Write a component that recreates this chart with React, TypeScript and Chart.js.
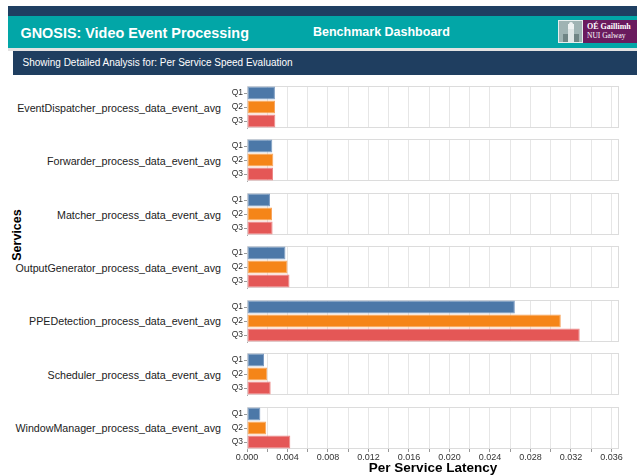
import React, { useEffect, useRef } from 'react';
import { Chart, registerables } from 'chart.js';

Chart.register(...registerables);

// ---- data ----
const services = [
  'EventDispatcher_process_data_event_avg',
  'Forwarder_process_data_event_avg',
  'Matcher_process_data_event_avg',
  'OutputGenerator_process_data_event_avg',
  'PPEDetection_process_data_event_avg',
  'Scheduler_process_data_event_avg',
  'WindowManager_process_data_event_avg',
];
const quarterLabels = ['Q1', 'Q2', 'Q3'];
const q1Values = [0.00276, 0.0025, 0.00227, 0.0038, 0.02646, 0.00168, 0.00132];
const q2Values = [0.00277, 0.0026, 0.00247, 0.004, 0.031, 0.002, 0.0019];
const q3Values = [0.0028, 0.00257, 0.00253, 0.0042, 0.03287, 0.00234, 0.00428];
const xMax = 0.03675;
const xGridStep = 0.002;
const xLabelStep = 0.004;

const FONT = '"Liberation Sans", Arial, Helvetica, sans-serif';
const barColors = ['#4c78a8', '#f58518', '#e45756'];
const barEdges = ['#7d9cc2', '#f8a55e', '#ec8987'];

Chart.defaults.font.family = FONT;

const panelBorder = {
  id: 'panelBorder',
  beforeDatasetsDraw(chart: any) {
    const { ctx, chartArea } = chart;
    ctx.save();
    ctx.strokeStyle = '#dcdcdc';
    ctx.lineWidth = 1;
    ctx.strokeRect(
      Math.round(chartArea.left) + 0.5,
      Math.round(chartArea.top) + 0.5,
      Math.round(chartArea.right - chartArea.left) - 1,
      Math.round(chartArea.bottom - chartArea.top) - 1
    );
    ctx.restore();
  },
};

const CANVAS_LEFT = 224;
const CANVAS_WIDTH = 637 - CANVAS_LEFT;
const PLOT_LEFT = 247;
const PLOT_RIGHT = 619;
const PANEL_TOP0 = 86;
const PANEL_STEP = 53.45;
const PANEL_H = 42;
const XAXIS_H = 27;

function Panel({ index }: { index: number }) {
  const ref = useRef<HTMLCanvasElement>(null);
  const isLast = index === services.length - 1;
  const top = Math.round(PANEL_TOP0 + PANEL_STEP * index) - 1;
  const height = 1 + PANEL_H + (isLast ? XAXIS_H : 1);

  useEffect(() => {
    const chart = new Chart(ref.current as HTMLCanvasElement, {
      type: 'bar',
      data: {
        labels: quarterLabels,
        datasets: [
          {
            data: [q1Values[index], q2Values[index], q3Values[index]],
            backgroundColor: barColors,
            borderColor: barEdges,
            borderWidth: 1,
            borderSkipped: false,
            barPercentage: 0.92,
            categoryPercentage: 1,
          },
        ],
      },
      options: {
        indexAxis: 'y',
        animation: false,
        responsive: false,
        maintainAspectRatio: false,
        devicePixelRatio: 1,
        layout: {
          padding: { top: 1, bottom: isLast ? 0 : 1, left: 0, right: 637 - PLOT_RIGHT },
        },
        plugins: { legend: { display: false }, tooltip: { enabled: false } },
        scales: {
          x: {
            type: 'linear',
            min: 0,
            max: xMax,
            grid: {
              color: '#e6e6e6',
              drawTicks: isLast,
              tickLength: 3,
              tickColor: '#999',
            },
            border: { display: false },
            ticks: {
              display: isLast,
              stepSize: xGridStep,
              includeBounds: false,
              autoSkip: false,
              maxRotation: 0,
              padding: 0,
              color: '#333',
              font: { size: 9 },
              callback: (v: any) => {
                const k = Math.round(Number(v) / xGridStep);
                const per = Math.round(xLabelStep / xGridStep);
                return k % per === 0 ? Number(v).toFixed(3) : '';
              },
            },
            title: {
              display: isLast,
              text: 'Per Service Latency',
              color: '#000',
              font: { size: 13.5, weight: 'bold' },
              padding: { top: 0, bottom: 0 },
            },
            afterFit: (s: any) => {
              s.height = isLast ? XAXIS_H : 0;
              s.paddingLeft = 0;
              s.paddingRight = 0;
            },
          },
          y: {
            grid: {
              drawOnChartArea: false,
              drawTicks: true,
              offset: false,
              tickLength: 3,
              color: '#999',
            },
            border: { display: true, color: '#aaa' },
            ticks: { color: '#333', padding: 1, autoSkip: false, font: { size: 8.5 } },
            afterFit: (s: any) => {
              s.width = PLOT_LEFT - CANVAS_LEFT;
              s.paddingTop = 0;
              s.paddingBottom = 0;
            },
          },
        },
      } as any,
      plugins: [panelBorder],
    });
    return () => chart.destroy();
  }, [index, isLast]);

  const center = PANEL_TOP0 + PANEL_STEP * index + PANEL_H / 2;
  const fs = 10.7;
  return (
    <>
      <div
        style={{
          position: 'absolute',
          left: 0,
          width: 221,
          top: center + 1 - fs / 2,
          textAlign: 'right',
          fontFamily: FONT,
          fontSize: fs,
          lineHeight: 1,
          color: '#222',
          whiteSpace: 'nowrap',
        }}
      >
        {services[index]}
      </div>
      <canvas
        ref={ref}
        width={CANVAS_WIDTH}
        height={height}
        style={{ position: 'absolute', left: CANVAS_LEFT, top, width: CANVAS_WIDTH, height }}
      />
    </>
  );
}

export default function App() {
  return (
    <div
      style={{
        position: 'absolute',
        left: 0,
        top: 0,
        width: 637,
        height: 475,
        overflow: 'hidden',
        background: '#fff',
        fontFamily: FONT,
      }}
    >
      {/* header */}
      <div style={{ position: 'absolute', left: 8, top: 6, width: 629, height: 10, background: '#1f3f62' }} />
      <div style={{ position: 'absolute', left: 8, top: 16, width: 629, height: 32, background: '#02a6a7' }} />
      <div style={{ position: 'absolute', left: 8, top: 48, width: 629, height: 3, background: '#e2e2e2' }} />
      <div
        style={{
          position: 'absolute',
          left: 20.5,
          top: 25.5,
          fontSize: 14.4,
          lineHeight: 1,
          fontWeight: 'bold',
          color: '#fff',
          whiteSpace: 'nowrap',
        }}
      >
        GNOSIS: Video Event Processing
      </div>
      <div
        style={{
          position: 'absolute',
          left: 313,
          top: 26,
          fontSize: 12.5,
          lineHeight: 1,
          fontWeight: 'bold',
          color: '#fff',
          whiteSpace: 'nowrap',
        }}
      >
        Benchmark Dashboard
      </div>
      {/* logo */}
      <div style={{ position: 'absolute', left: 558, top: 20, width: 79, height: 23, background: '#e6eeee' }}>
        <div style={{ position: 'absolute', left: 1, top: 1, width: 23, height: 21, background: '#9fb3b3' }}>
          <div style={{ position: 'absolute', left: 9, top: 3, width: 6, height: 18, background: '#eef2f2' }} />
          <div style={{ position: 'absolute', left: 10, top: 1, width: 4, height: 3, background: '#eef2f2', borderRadius: '2px 2px 0 0' }} />
          <div style={{ position: 'absolute', left: 4, top: 13, width: 16, height: 8, background: '#6f8484' }} />
          <div style={{ position: 'absolute', left: 9, top: 8, width: 6, height: 13, background: '#dfe6e6' }} />
        </div>
        <div style={{ position: 'absolute', left: 25, top: 0, width: 54, height: 23, background: '#6a1b5e' }}>
          <div
            style={{
              position: 'absolute',
              left: 4,
              top: 3,
              fontFamily: '"Liberation Serif", "Times New Roman", serif',
              fontSize: 8,
              fontWeight: 'bold',
              lineHeight: 1,
              color: '#fff',
              whiteSpace: 'nowrap',
            }}
          >
            OÉ Gaillimh
          </div>
          <div
            style={{
              position: 'absolute',
              left: 4,
              top: 12,
              fontFamily: '"Liberation Serif", "Times New Roman", serif',
              fontSize: 7.5,
              lineHeight: 1,
              color: '#fff',
              whiteSpace: 'nowrap',
            }}
          >
            NUI Galway
          </div>
        </div>
      </div>
      {/* subtitle band */}
      <div style={{ position: 'absolute', left: 13, top: 51, width: 624, height: 24, background: '#1f3e60' }} />
      <div
        style={{
          position: 'absolute',
          left: 22.5,
          top: 58,
          fontSize: 10,
          lineHeight: 1,
          color: '#fff',
          whiteSpace: 'nowrap',
        }}
      >
        Showing Detailed Analysis for: Per Service Speed Evaluation
      </div>
      {/* y title */}
      <div
        style={{
          position: 'absolute',
          left: 17,
          top: 235,
          transform: 'translate(-50%, -50%) rotate(-90deg)',
          fontSize: 12.5,
          fontWeight: 'bold',
          lineHeight: 1,
          color: '#000',
          whiteSpace: 'nowrap',
        }}
      >
        Services
      </div>
      {services.map((_, i) => (
        <Panel key={i} index={i} />
      ))}
    </div>
  );
}
